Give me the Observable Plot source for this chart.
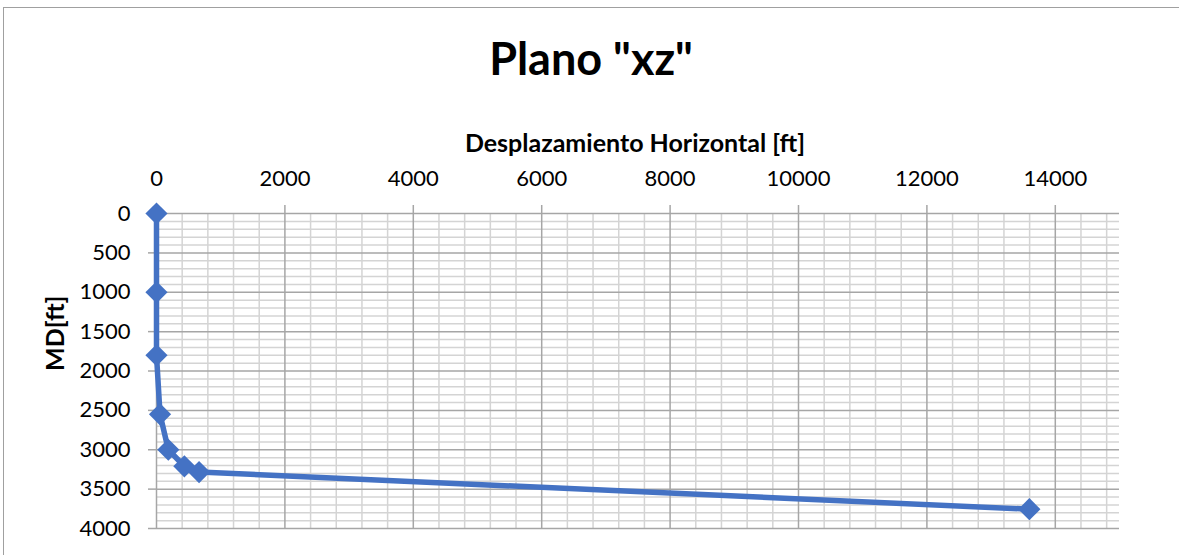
<!DOCTYPE html>
<html>
<head>
<meta charset="utf-8">
<script src="https://cdn.jsdelivr.net/npm/d3@7"></script>
<script src="https://cdn.jsdelivr.net/npm/@observablehq/plot@0.6"></script>
<style>
  html, body { margin: 0; padding: 0; background: #fff; }
  #wrap { position: relative; width: 1179px; height: 555px; overflow: hidden; font-family: Lato, sans-serif; }
  #border { position: absolute; left: 3px; top: 7px; width: 1400px; height: 800px; border: 1px solid #a0a0a0; box-sizing: border-box; }
  #title { position: relative; height: 100px; width: 1179px; }
  #title span { position: absolute; left: 0; width: 1182px; text-align: center; top: 36px; font: bold 45px/1 Lato, sans-serif; color: #000; }
  #chart { position: relative; }
</style>
</head>
<body>
<div id="wrap">
  <div id="border"></div>
  <div id="title"><span>Plano "xz"</span></div>
  <div id="chart"></div>
</div>
<script>
// Data
const displacement = [0, 0, 0, 55, 184, 434, 663, 13596];   // Desplazamiento Horizontal [ft]
const md = [0, 1000, 1800, 2550, 3000, 3210, 3283, 3755];      // MD [ft]
const xTicks = [0, 2000, 4000, 6000, 8000, 10000, 12000, 14000];
const yTicks = [0, 500, 1000, 1500, 2000, 2500, 3000, 3500, 4000];
const xLabel = "Desplazamiento Horizontal [ft]";
const yLabel = "MD[ft]";

const points = displacement.map((x, i) => ({x, y: md[i]}));
const xMinor = d3.range(400, 15000, 400).filter(v => v % 2000 !== 0);
const yMinor = d3.range(100, 4000, 100).filter(v => v % 500 !== 0);

const blue = "#4472C4";

const chart = Plot.plot({
  width: 1179,
  height: 455,
  marginTop: 113,
  marginBottom: 27,
  marginLeft: 156,
  marginRight: 60,
  style: {fontFamily: "Lato, sans-serif", fontSize: "22px", color: "#000", background: "transparent"},
  x: {domain: [0, 15000]},
  y: {domain: [0, 4000], reverse: true},
  marks: [
    Plot.ruleX(xMinor, {stroke: "#d4d4d4", strokeWidth: 1.5}),
    Plot.ruleY(yMinor, {stroke: "#d4d4d4", strokeWidth: 1.5}),
    Plot.ruleX(xTicks, {stroke: "#a6a6a6", strokeWidth: 1.5}),
    Plot.ruleY(yTicks, {stroke: "#a6a6a6", strokeWidth: 1.5}),
    Plot.axisX({anchor: "top", ticks: xTicks, tickSize: 9, tickPadding: 19, tickFormat: d => String(d), label: null, stroke: "#a6a6a6", strokeWidth: 1.5, fill: "#000"}),
    Plot.axisY({anchor: "left", ticks: yTicks, tickSize: 8, tickPadding: 18, tickFormat: d => String(d), label: null, stroke: "#a6a6a6", strokeWidth: 1.5, fill: "#000"}),
    Plot.text([xLabel], {frameAnchor: "top", dx: -3, dy: -79, text: d => d, fontWeight: "bold", fontSize: 25, fill: "#000"}),
    Plot.text([yLabel], {frameAnchor: "left", dx: -101, text: d => d, rotate: -90, fontWeight: "bold", fontSize: 25, fill: "#000"}),
    Plot.line(points, {x: "x", y: "y", stroke: blue, strokeWidth: 5.5, strokeLinejoin: "round"}),
    Plot.dot(points, {x: "x", y: "y", symbol: "diamond2", r: 10, fill: blue, stroke: "none"})
  ]
});
document.getElementById("chart").appendChild(chart);
</script>
</body>
</html>
